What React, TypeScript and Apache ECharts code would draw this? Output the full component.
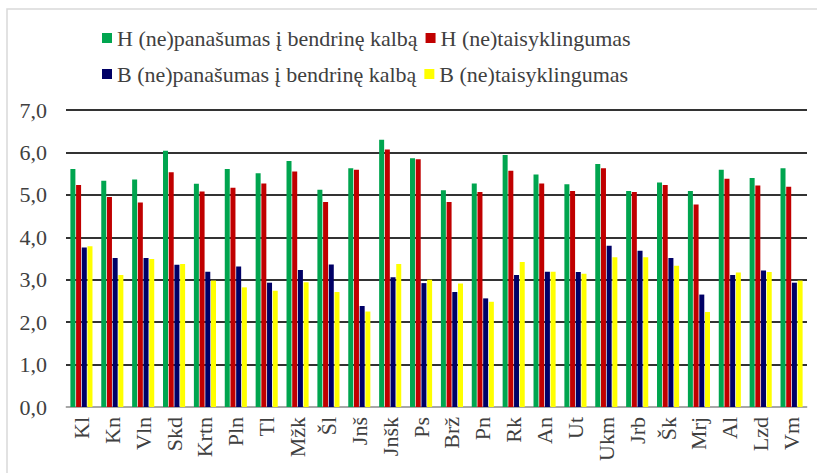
import React, { useEffect, useRef } from "react";
import * as echarts from "echarts";

const categories = ["Kl", "Kn", "Vln", "Skd", "Krtn", "Pln", "Tl", "Mžk", "Šl", "Jnš", "Jnšk", "Ps", "Brž", "Pn", "Rk", "An", "Ut", "Ukm", "Jrb", "Šk", "Mrj", "Al", "Lzd", "Vm"];
const seriesNames = [
  "H (ne)panašumas į bendrinę kalbą",
  "H (ne)taisyklingumas",
  "B (ne)panašumas į bendrinę kalbą",
  "B (ne)taisyklingumas",
];
const hSimilarity = [5.61, 5.33, 5.36, 6.04, 5.26, 5.61, 5.51, 5.80, 5.12, 5.63, 6.30, 5.86, 5.11, 5.27, 5.94, 5.48, 5.25, 5.73, 5.09, 5.29, 5.09, 5.59, 5.40, 5.63];
const hCorrectness = [5.23, 4.95, 4.82, 5.53, 5.08, 5.17, 5.27, 5.55, 4.83, 5.59, 6.07, 5.84, 4.83, 5.07, 5.57, 5.27, 5.09, 5.63, 5.07, 5.23, 4.77, 5.38, 5.22, 5.19];
const bSimilarity = [3.76, 3.51, 3.51, 3.35, 3.19, 3.31, 2.93, 3.23, 3.36, 2.38, 3.06, 2.92, 2.71, 2.56, 3.11, 3.19, 3.18, 3.80, 3.68, 3.51, 2.65, 3.11, 3.22, 2.93];
const bCorrectness = [3.79, 3.11, 3.49, 3.37, 2.98, 2.82, 2.74, 2.94, 2.71, 2.25, 3.37, 3.00, 2.91, 2.48, 3.42, 3.19, 3.14, 3.53, 3.53, 3.33, 2.24, 3.17, 3.18, 2.98];
const colors = ["#00A54F", "#C00000", "#000066", "#FFFF00"];

const FONT = "Liberation Serif";
const TEXT_COLOR = "#404040";

export default function App() {
  const ref = useRef<HTMLDivElement>(null);
  useEffect(() => {
    if (!ref.current) return;
    const chart = echarts.init(ref.current, null, { renderer: "svg" });
    const allData = [hSimilarity, hCorrectness, bSimilarity, bCorrectness];
    const legendCommon = {
      left: 97,
      orient: "horizontal" as const,
      itemWidth: 10,
      itemHeight: 10,
      itemGap: 8,
      icon: "rect",
      textStyle: { fontFamily: FONT, fontSize: 22, color: TEXT_COLOR },
      selectedMode: false,
    };
    chart.setOption({
      animation: false,
      backgroundColor: "#ffffff",
      color: colors,
      textStyle: { fontFamily: FONT },
      graphic: [
        {
          type: "rect",
          shape: { x: 7, y: 9, width: 830, height: 480 },
          style: { fill: "none", stroke: "#d9d9d9", lineWidth: 1.5 },
          silent: true,
        },
      ],
      legend: [
        { ...legendCommon, top: 22, data: [seriesNames[0], seriesNames[1]] },
        { ...legendCommon, top: 58, data: [seriesNames[2], seriesNames[3]] },
      ],
      grid: { left: 66, right: 10, top: 110, bottom: 66, containLabel: false },
      xAxis: {
        type: "category",
        data: categories,
        axisLine: { show: true, lineStyle: { color: "#d0d0d0", width: 1.5 } },
        axisTick: { show: false },
        axisLabel: {
          rotate: 90,
          margin: 10,
          fontFamily: FONT,
          fontSize: 22,
          color: TEXT_COLOR,
          interval: 0,
        },
      },
      yAxis: {
        type: "value",
        min: 0,
        max: 7,
        interval: 1,
        axisLine: { show: false },
        axisTick: { show: false },
        splitLine: { show: true, lineStyle: { color: "#333333", width: 1.8 } },
        axisLabel: {
          margin: 19,
          fontFamily: FONT,
          fontSize: 22,
          color: TEXT_COLOR,
          formatter: (v: number) => v.toFixed(1).replace(".", ","),
        },
      },
      series: allData.map((d, i) => ({
        name: seriesNames[i],
        type: "bar",
        data: d,
        barWidth: 5,
        barGap: "14%",
        itemStyle: { color: colors[i] },
      })),
    });
    return () => chart.dispose();
  }, []);
  return (
    <div
      ref={ref}
      style={{ position: "fixed", left: 0, top: 0, width: 817, height: 473, background: "#fff" }}
    />
  );
}
